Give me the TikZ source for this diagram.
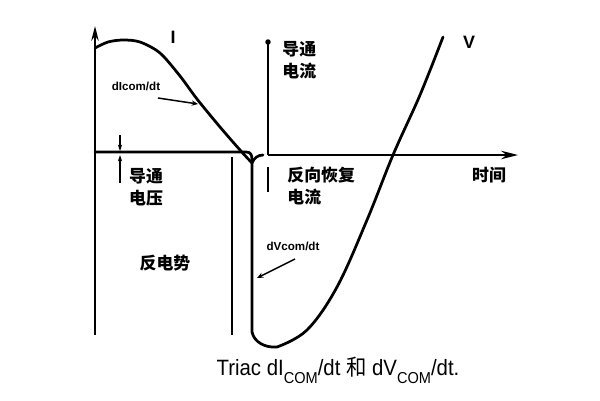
\documentclass[tikz,border=0pt]{standalone}
\usepackage{fontspec}
\setmainfont{Liberation Sans}
\newfontfamily\cjk{Noto Sans CJK SC}
\usetikzlibrary{arrows.meta}

\tikzset{
  curve/.style={line width=1.3pt,line join=round,line cap=round},
  axis/.style={line width=1.1pt},
  marker/.style={line width=1pt},
  cjklabel/.style={font=\cjk\bfseries\fontsize{8}{10.4}\selectfont,align=left,inner sep=0pt},
  latlabel/.style={font=\bfseries\fontsize{8.5}{10}\selectfont,inner sep=0pt},
  ratelabel/.style={font=\bfseries\fontsize{5.5}{6}\selectfont,inner sep=0pt},
  pointer/.style={line width=0.7pt,-{Stealth[length=3pt,width=2.5pt]}}
}
\newcommand{\subcom}{\raisebox{-0.35em}{\fontsize{7.5}{8}\selectfont COM}}

\begin{document}
\begin{tikzpicture}[x=0.016667cm,y=-0.016667cm]
        \useasboundingbox (0,0) rectangle (600,400);

        % Axes
        \draw[axis,-{Stealth[length=7pt,width=3.5pt]}] (95,335) -- (95,26);
        \draw[axis,-{Stealth[length=8pt,width=4pt]}] (268,155) -- (518,155);

        % Current curve (I)
        \draw[curve] plot[smooth,tension=0.5] coordinates
            {(95,48) (108,42) (123,40) (140,42) (160,53) (180,76)
             (197,99) (220,127) (240,150) (252,163)}
            .. controls (254,158) and (258,155) .. (263,155);

        % Voltage curve (V)
        \draw[curve] (95,152) -- (246,152)
            .. controls (251,152) and (252,155) .. (252,160) -- (252,332)
            .. controls (254,342) and (265,348) .. (277,347)
            -- plot[smooth,tension=0.6] coordinates
            {(277,347) (307,330) (337,287) (367,220) (393,155) (420,95) (443,37)};

        % Markers
        \draw[marker] (268,42) -- (268,155);
        \fill (268,42) circle (1.3pt);
        \draw[marker] (268,167) -- (268,192);
        \draw[marker] (232,157) -- (232,335);
        \draw[marker,-{Stealth[length=3pt,width=2pt]}] (120,135) -- (120,151);
        \draw[marker,-{Stealth[length=3pt,width=2pt]}] (120,183) -- (120,155);

        % Labels
        \node[latlabel] (curI) at (173,37) {I};
        \node[latlabel] (volV) at (469,42) {V};
        \node[cjklabel,anchor=north west] (onCur) at (282,41) {导通\\电流};
        \node[cjklabel] (onVolt) at (146,187) {导通\\电压};
        \node[cjklabel] (backEmf) at (165,263) {反电势};
        \node[cjklabel,anchor=north west] (recCur) at (287,167) {反向恢复\\电流};
        \node[cjklabel] (timeAx) at (489,175) {时间};

        % Rate labels
        \node[ratelabel] (diRate) at (136,86) {dIcom/dt};
        \coordinate (diTip) at (198,104);
        \draw[pointer] (158,98) -- (diTip);
        \node[ratelabel] (dvRate) at (293,246) {dVcom/dt};
        \coordinate (dvTip) at (257,278);
        \draw[pointer] (295,259) -- (dvTip);

        % Caption
        \node[font=\fontsize{10.5}{12}\selectfont,inner sep=0pt,xscale=0.92] (caption) at (338,370)
            {Triac dI\subcom/dt {\cjk 和} dV\subcom/dt.};
    \end{tikzpicture}
\end{document}
